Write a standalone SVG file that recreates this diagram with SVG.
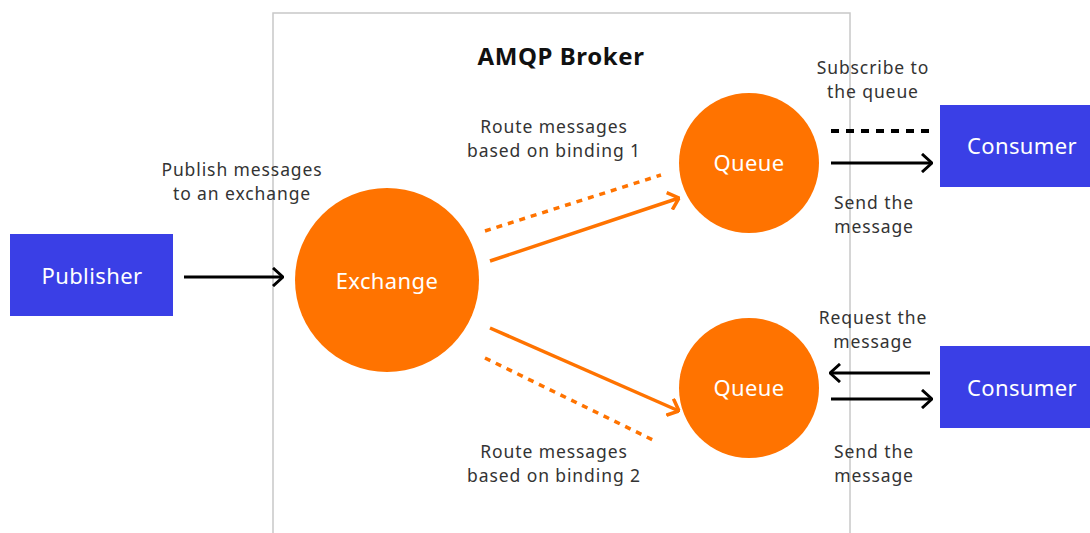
<svg xmlns="http://www.w3.org/2000/svg" width="1090" height="533" viewBox="0 0 1090 533">
<defs>
<style>
.lbl{font-family:"Noto Sans","Open Sans",sans-serif;font-size:17.5px;letter-spacing:0.9px;fill:#333;text-anchor:middle}
.nl{font-family:"Noto Sans","Open Sans",sans-serif;font-size:22px;letter-spacing:0.4px;fill:#fff;text-anchor:middle}
.blue{fill:#3a3fe6}
.org{fill:#ff7300}
.blk{stroke:#000;stroke-width:3;fill:none}
.ol{stroke:#ff7300;stroke-width:3.5;fill:none}
</style>
<marker id="ab" viewBox="0 0 12 20" refX="11" refY="10" markerWidth="12" markerHeight="20" markerUnits="userSpaceOnUse" orient="auto">
<path d="M1,1 L11,10 L1,19" fill="none" stroke="#000" stroke-width="3"/>
</marker>
<marker id="ao" viewBox="0 0 12 20" refX="11" refY="10" markerWidth="12" markerHeight="20" markerUnits="userSpaceOnUse" orient="auto">
<path d="M1,1 L11,10 L1,19" fill="none" stroke="#ff7300" stroke-width="3.5"/>
</marker>
</defs>
<rect width="1090" height="533" fill="#fff"/>
<g id="broker">
<rect x="273" y="13" width="577" height="540" fill="none" stroke="#c8c8c8" stroke-width="1.5"/>
<text x="561" y="65" style="font-family:'Noto Sans','Open Sans',sans-serif;font-size:24px;letter-spacing:0.6px;font-weight:bold;fill:#111;text-anchor:middle">AMQP Broker</text>
</g>
<g id="publisher">
<rect class="blue" x="10" y="234" width="163" height="82"/>
<text class="nl" x="92" y="284">Publisher</text>
</g>
<g id="exchange">
<circle class="org" cx="387" cy="280" r="92"/>
<text class="nl" x="387" y="289">Exchange</text>
</g>
<g id="queue1">
<circle class="org" cx="749" cy="163" r="70"/>
<text class="nl" x="749" y="171">Queue</text>
</g>
<g id="queue2">
<circle class="org" cx="749" cy="388" r="70"/>
<text class="nl" x="749" y="396">Queue</text>
</g>
<g id="consumer1">
<rect class="blue" x="940" y="105" width="150" height="82"/>
<text class="nl" x="1022" y="154">Consumer</text>
</g>
<g id="consumer2">
<rect class="blue" x="940" y="346" width="150" height="82"/>
<text class="nl" x="1022" y="396">Consumer</text>
</g>
<g id="connectors">
<line class="blk" x1="184" y1="277" x2="283" y2="277" marker-end="url(#ab)"/>
<line class="ol" x1="490" y1="261" x2="679" y2="198" marker-end="url(#ao)"/>
<line class="ol" x1="485" y1="231" x2="661" y2="175" stroke-dasharray="6,6"/>
<line class="ol" x1="490" y1="328" x2="679" y2="411" marker-end="url(#ao)"/>
<line class="ol" x1="485" y1="358" x2="653" y2="440" stroke-dasharray="6,6"/>
<line x1="831" y1="131" x2="930" y2="131" stroke="#000" stroke-width="4" stroke-dasharray="8,7"/>
<line class="blk" x1="831" y1="163" x2="932" y2="163" marker-end="url(#ab)"/>
<line class="blk" x1="930" y1="373" x2="830" y2="373" marker-end="url(#ab)"/>
<line class="blk" x1="831" y1="399" x2="932" y2="399" marker-end="url(#ab)"/>
</g>
<g id="labels">
<text class="lbl" x="242" y="176">Publish messages</text>
<text class="lbl" x="242" y="200">to an exchange</text>
<text class="lbl" x="554" y="133">Route messages</text>
<text class="lbl" x="554" y="157">based on binding 1</text>
<text class="lbl" x="554" y="458">Route messages</text>
<text class="lbl" x="554" y="482">based on binding 2</text>
<text class="lbl" x="873" y="74">Subscribe to</text>
<text class="lbl" x="873" y="98">the queue</text>
<text class="lbl" x="874" y="209">Send the</text>
<text class="lbl" x="874" y="233">message</text>
<text class="lbl" x="873" y="324">Request the</text>
<text class="lbl" x="873" y="348">message</text>
<text class="lbl" x="874" y="458">Send the</text>
<text class="lbl" x="874" y="482">message</text>
</g>
</svg>
